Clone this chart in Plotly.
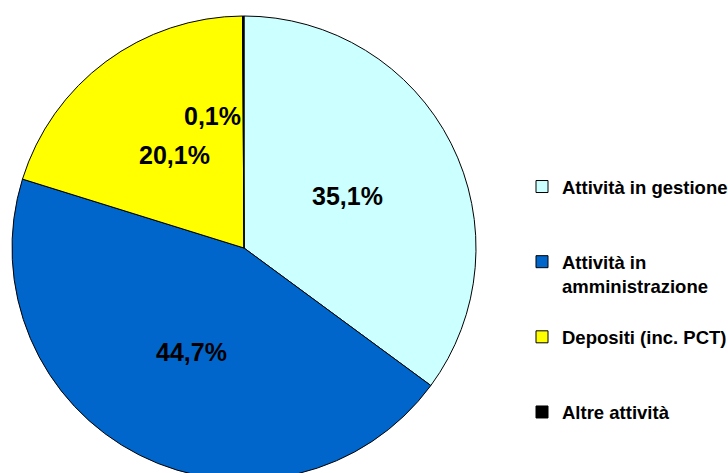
import math
import plotly.graph_objects as go

# Composition of assets (percent shares)
categories = [
    "Attività in gestione",
    "Attività in<br>amministrazione",
    "Depositi (inc. PCT)",
    "Altre attività",
]
shares = [35.1, 44.7, 20.1, 0.1]
colors = ["#CCFFFF", "#0066CC", "#FFFF00", "#000000"]

# Extra blank lines pad each legend entry so the entries are spread out
legend_padding = ["<br> <br> ", "<br> ", "<br> <br> ", ""]
legend_labels = [
    "<br>".join(f"<b>{part}</b>" for part in c.split("<br>")) + p
    for c, p in zip(categories, legend_padding)
]

W, H = 728, 480
M_TOP = 16
PIE_W = 488  # width of the pie domain in pixels

fig = go.Figure(
    go.Pie(
        labels=legend_labels,
        values=shares,
        sort=False,
        direction="clockwise",
        rotation=0,
        marker=dict(colors=colors, line=dict(color="#000000", width=1)),
        textinfo="none",
        hoverinfo="label+percent",
        domain=dict(x=[0, PIE_W / W], y=[0, 1]),
    )
)

# Percent labels along each slice's bisector, at half the radius
plot_h = H - M_TOP
cx, cy, R = PIE_W / 2, M_TOP + plot_h / 2, plot_h / 2
total = sum(shares)
annotations = []
cum = 0.0
for i, v in enumerate(shares):
    mid = (cum + v / 2) / total * 2 * math.pi
    cum += v
    if v < 1:
        # tiny slice: label sits just left of the 12 o'clock edge
        px, py = cx - 32, cy - 132
    else:
        px = cx + 0.5 * R * math.sin(mid)
        py = cy - 0.5 * R * math.cos(mid)
    annotations.append(
        dict(
            x=px / W,
            y=(H - py) / plot_h,
            xref="paper",
            yref="paper",
            text=f"{v:.1f}".replace(".", ",") + "%",
            showarrow=False,
            xanchor="center",
            yanchor="middle",
            font=dict(family="Liberation Sans, Arial, sans-serif", size=25,
                      color="#000000", weight="bold"),
        )
    )

fig.update_layout(
    width=W,
    height=H,
    margin=dict(l=0, r=0, t=M_TOP, b=0, pad=0, autoexpand=False),
    paper_bgcolor="#FFFFFF",
    plot_bgcolor="#FFFFFF",
    annotations=annotations,
    showlegend=True,
    legend=dict(
        xref="container",
        yref="container",
        x=522 / W,
        y=1 - 168 / H,
        xanchor="left",
        yanchor="top",
        valign="top",
        maxheight=1,
        bgcolor="rgba(0,0,0,0)",
        font=dict(family="Liberation Sans, Arial, sans-serif", size=18.5,
                  color="#000000", weight="bold"),
        tracegroupgap=0,
    ),
)

fig.write_html(
    "out.html",
    post_script="document.documentElement.style.overflow='hidden';"
                "document.body.style.overflow='hidden';",
)
